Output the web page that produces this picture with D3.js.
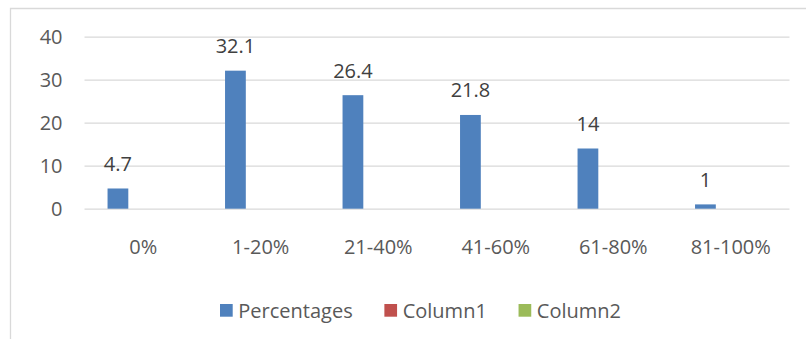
<html>
<head>
    <title>Percentages</title>
    <script src="https://d3js.org/d3.v7.min.js"></script>
    <style>
        body { margin: 0; background: #fff; }
        text { font-family: "Open Sans", "Noto Sans", sans-serif; }
    </style>
</head>
<body>
    <svg width="806" height="339"></svg>

    <script>
        // chart data
        const categories = ['0%', '1-20%', '21-40%', '41-60%', '61-80%', '81-100%'];
        const seriesNames = ['Percentages', 'Column1', 'Column2'];
        const percentages = [4.7, 32.1, 26.4, 21.8, 14, 1];
        const column1 = [null, null, null, null, null, null];
        const column2 = [null, null, null, null, null, null];
        const yTicks = [0, 10, 20, 30, 40];
        const seriesColors = ['#4f81bd', '#c0504d', '#9bbb59'];

        const svg = d3.select('svg');

        // outer chart frame (cropped on the right and bottom)
        svg.append('path')
            .attr('d', 'M10.5,345 V8.5 H810')
            .attr('fill', 'none')
            .attr('stroke', '#d9d9d9')
            .attr('stroke-width', 1.3);

        const x0 = d3.scaleBand()
            .domain(categories)
            .range([84.5, 789.5]);

        const x1 = d3.scaleBand()
            .domain(seriesNames)
            .range([0, x0.bandwidth()])
            .paddingInner(0.18)
            .paddingOuter(0.91);

        const y = d3.scaleLinear()
            .domain([0, 40])
            .range([208.7, 36.7]);

        // y axis + gridlines
        const yAxisG = svg.append('g')
            .attr('transform', `translate(${x0.range()[0]},0)`)
            .call(d3.axisLeft(y)
                .tickValues(yTicks)
                .tickSize(-(x0.range()[1] - x0.range()[0]))
                .tickPadding(22));
        yAxisG.select('.domain').remove();
        yAxisG.selectAll('line')
            .attr('stroke', '#d9d9d9')
            .attr('stroke-width', 1.3);
        yAxisG.selectAll('text')
            .attr('fill', '#595959')
            .style('font-size', '20px');

        // x axis labels
        const xAxisG = svg.append('g')
            .attr('transform', `translate(0,${y(0)})`)
            .call(d3.axisBottom(x0).tickSize(0));
        xAxisG.select('.domain').remove();
        xAxisG.selectAll('text')
            .attr('y', 45.3)
            .attr('dy', 0)
            .attr('fill', '#595959')
            .style('font-size', '20px');

        // bars
        const allSeries = [percentages, column1, column2];
        const rows = [];
        allSeries.forEach((vals, s) => {
            vals.forEach((v, i) => {
                if (v !== null) rows.push({ cat: categories[i], series: seriesNames[s], color: seriesColors[s], value: v });
            });
        });

        svg.append('g').selectAll('rect')
            .data(rows)
            .join('rect')
            .attr('x', d => x0(d.cat) + x1(d.series))
            .attr('width', x1.bandwidth())
            .attr('y', d => y(d.value))
            .attr('height', d => y(0) - y(d.value))
            .attr('fill', d => d.color);

        // data labels
        svg.append('g').selectAll('text')
            .data(rows)
            .join('text')
            .attr('x', d => x0(d.cat) + x1(d.series) + x1.bandwidth() / 2)
            .attr('y', d => y(d.value) - 17.5)
            .attr('text-anchor', 'middle')
            .attr('fill', '#404040')
            .style('font-size', '20px')
            .text(d => d.value);

        // legend
        const legendG = svg.append('g')
            .attr('transform', 'translate(220,304)');
        let lx = 0;
        seriesNames.forEach((name, i) => {
            const item = legendG.append('g').attr('transform', `translate(${lx},0)`);
            item.append('rect')
                .attr('width', 12.7)
                .attr('height', 12.7)
                .attr('fill', seriesColors[i]);
            const t = item.append('text')
                .attr('x', 18.3)
                .attr('y', 13.5)
                .attr('fill', '#595959')
                .style('font-size', '20px')
                .text(name);
            lx += 18.3 + t.node().getComputedTextLength() + 31.7;
        });
    </script>
</body>
</html>
